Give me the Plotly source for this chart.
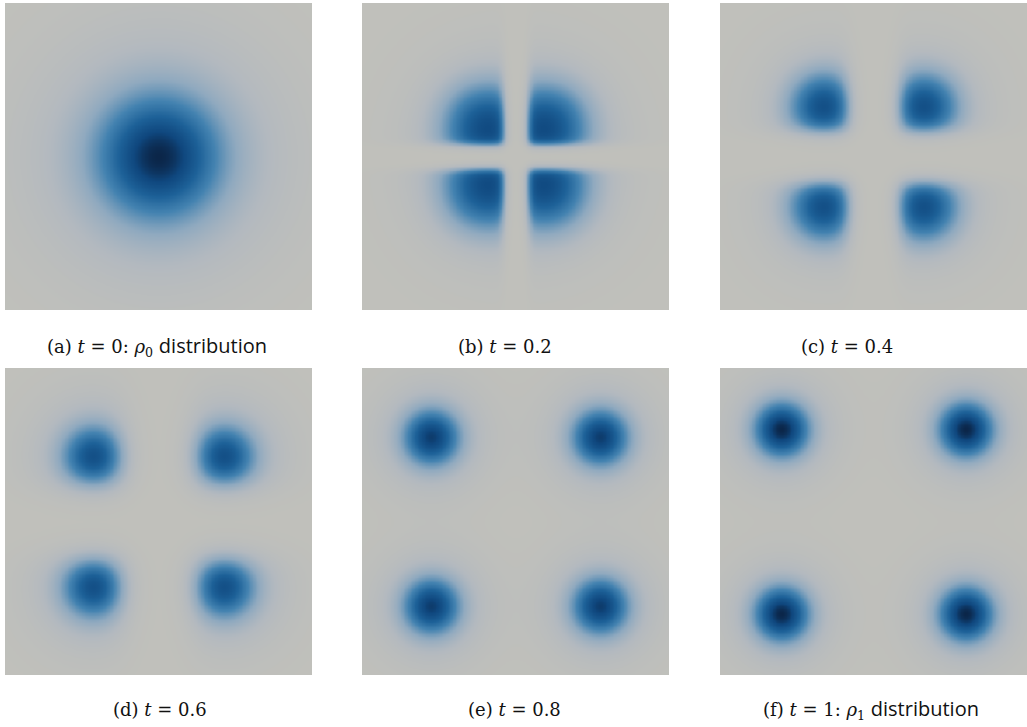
import numpy as np
import plotly.graph_objects as go

# ---- data (normalised panel coordinates 0..1) ----
panel_letters = ["a", "b", "c", "d", "e", "f"]
panel_times = ["0", "0.2", "0.4", "0.6", "0.8", "1"]
panel_rho = ["0", "", "", "", "", "1"]                   # subscript of rho in the caption, if any
blob_offset = [0.0, 0.108, 0.163, 0.21, 0.275, 0.30]   # distance of blob centres from panel centre
blob_sigma = [0.125, 0.088, 0.074, 0.066, 0.058, 0.056]
blob_peak = [1.0, 0.82, 0.78, 0.78, 0.9, 1.0]
blob_halo = [0.25, 0.10, 0.14, 0.22, 0.2, 0.18]         # share of a wide, faint halo
gap_half = [0.0, 0.042, 0.08, 0.10, 0.0, 0.0]           # half-width of the low-density cross
gap_soft = [1.0, 0.008, 0.016, 0.03, 1.0, 1.0]
caption_x = [157, 505, 847, 160, 514, 871]

# ---- layout (pixels) ----
W, H = 1027, 727
col_x = [5, 362, 720]
row_y = [3, 368]
size = 307
caption_y = [346, 709]

colorscale = [
    [0.0, "#c0c0bb"],
    [0.1, "#b3b9bf"],
    [0.25, "#8fa9bf"],
    [0.45, "#4382b0"],
    [0.65, "#1d6198"],
    [0.85, "#0f477e"],
    [1.0, "#0b2649"],
]

n = 220
g = np.linspace(0, 1, n)
X, Y = np.meshgrid(g, g)


def field(i):
    off, s, pk, h = blob_offset[i], blob_sigma[i], blob_peak[i], blob_halo[i]
    if off == 0:
        centres = [(0.5, 0.5)]
    else:
        centres = [(0.5 + a * off, 0.5 + b * off) for a in (-1, 1) for b in (-1, 1)]
    z = np.zeros_like(X)
    for cx, cy in centres:
        d2 = (X - cx) ** 2 + (Y - cy) ** 2
        z += (1 - h) * np.exp(-d2 / (2 * s * s)) + h * np.exp(-d2 / (8 * s * s))
    if gap_half[i] > 0:
        cx_clip = 1 / (1 + np.exp(-(np.abs(X - 0.5) - gap_half[i]) / gap_soft[i]))
        cy_clip = 1 / (1 + np.exp(-(np.abs(Y - 0.5) - gap_half[i]) / gap_soft[i]))
        z = z * cx_clip * cy_clip
    return pk * z / z.max()


fig = go.Figure()
for i in range(6):
    r, c = divmod(i, 3)
    ax = "" if i == 0 else str(i + 1)
    x0 = col_x[c] / W
    x1 = (col_x[c] + size) / W
    y1 = 1 - row_y[r] / H
    y0 = 1 - (row_y[r] + size) / H
    fig.add_trace(go.Heatmap(
        z=field(i), x=g, y=g, colorscale=colorscale, zmin=0, zmax=1,
        zsmooth="best", showscale=False, hoverinfo="skip",
        xaxis="x" + ax, yaxis="y" + ax,
    ))
    fig.layout["xaxis" + ax] = dict(domain=[x0, x1], range=[0, 1], visible=False, fixedrange=True)
    fig.layout["yaxis" + ax] = dict(domain=[y0, y1], range=[0, 1], visible=False, fixedrange=True)
    text = f"({panel_letters[i]}) <i>t</i>&nbsp;=&nbsp;{panel_times[i]}"
    if panel_rho[i]:
        text += (f": <i>ρ</i><sub>{panel_rho[i]}</sub> "
                 "<span style='font-family:\"Open Sans\";font-size:20px'>distribution</span>")
    fig.add_annotation(
        x=caption_x[i] / W, y=1 - caption_y[r] / H, xref="paper", yref="paper",
        text=text, showarrow=False, xanchor="center", yanchor="middle",
        font=dict(family="DejaVu Serif", size=18, color="#111111"),
    )

fig.update_layout(
    width=W, height=H, margin=dict(l=0, r=0, t=0, b=0),
    paper_bgcolor="white", plot_bgcolor="white", showlegend=False,
)
fig.write_html("out.html", post_script="document.body.style.margin='0';",
               config={"displayModeBar": False})
